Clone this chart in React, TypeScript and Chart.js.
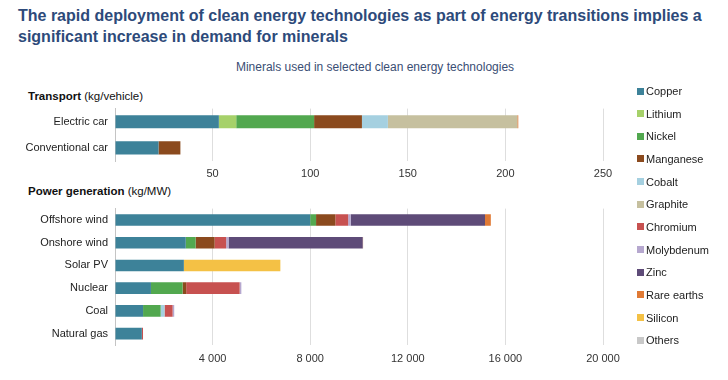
import React, { useEffect, useRef } from "react";
import { Chart, registerables } from "chart.js";

Chart.register(...registerables);

const FONT = "'Liberation Sans', Arial, Helvetica, sans-serif";

const minerals = [
  "Copper", "Lithium", "Nickel", "Manganese", "Cobalt", "Graphite",
  "Chromium", "Molybdenum", "Zinc", "Rare earths", "Silicon", "Others",
];
const mineralColors = [
  "#3d8299", "#a6d16a", "#52a84f", "#8b4a1e", "#a5d0e0", "#c6c09f",
  "#c75150", "#b6a8cf", "#5e4b78", "#e07a35", "#f4c145", "#c8c8c8",
];

// values per category, in mineral order
const transportCategories = ["Electric car", "Conventional car"];
const electricCar = [53.2, 8.9, 39.9, 24.5, 13.3, 66.3, 0, 0, 0, 0.5, 0, 0];
const conventionalCar = [22.3, 0, 0, 11.2, 0, 0, 0, 0, 0, 0, 0, 0];

const powerCategories = ["Offshore wind", "Onshore wind", "Solar PV", "Nuclear", "Coal", "Natural gas"];
const offshoreWind = [8000, 0, 240, 790, 0, 0, 525, 109, 5500, 239, 0, 0];
const onshoreWind = [2900, 0, 404, 780, 0, 0, 470, 99, 5500, 14, 0, 0];
const solarPV = [2822, 0, 0, 0, 0, 0, 0, 0, 0, 0, 3955, 0];
const nuclear = [1473, 0, 1297, 148, 0, 0, 2190, 70, 0, 0, 0, 0];
const coal = [1150, 0, 721, 0, 160, 0, 330, 66, 0, 0, 0, 0];
const naturalGas = [1100, 0, 0, 0, 0, 0, 48, 0, 0, 0, 0, 0];

const transportTicks = { max: 250, step: 50 };
const powerTicks = { max: 20000, step: 4000 };

const fmt = (v: number) =>
  v === 0 ? "" : String(v).replace(/\B(?=(\d{3})+(?!\d))/g, " ");

type PanelProps = {
  categories: string[];
  rows: number[][];
  max: number;
  step: number;
  top: number;
  height: number;
  padTop: number;
  axisH: number;
  tickPad: number;
  barPct: number;
};

function Panel({ categories, rows, max, step, top, height, padTop, axisH, tickPad, barPct }: PanelProps) {
  const ref = useRef<HTMLCanvasElement | null>(null);
  useEffect(() => {
    if (!ref.current) return;
    const datasets = minerals
      .map((m, i) => ({
        label: m,
        data: rows.map((r) => r[i]),
        backgroundColor: mineralColors[i],
        borderWidth: 0,
        barPercentage: barPct,
        categoryPercentage: 1,
      }))
      .filter((ds) => ds.data.some((v) => v > 0));
    const chart = new Chart(ref.current, {
      type: "bar",
      data: { labels: categories, datasets },
      options: {
        indexAxis: "y",
        animation: false,
        responsive: false,
        maintainAspectRatio: false,
        layout: { padding: { top: padTop, right: 125, left: 0, bottom: 0 } },
        plugins: { legend: { display: false }, tooltip: { enabled: false } },
        scales: {
          x: {
            stacked: true,
            min: 0,
            max,
            afterFit: (s: any) => { s.height = axisH; },
            ticks: {
              stepSize: step,
              padding: tickPad,
              color: "#333",
              font: { family: FONT, size: 11 },
              callback: (v: any) => fmt(Number(v)),
              maxRotation: 0,
              autoSkip: false,
            },
            grid: {
              drawTicks: false,
              color: (ctx: any) => (ctx.tick && ctx.tick.value === 0 ? "rgba(0,0,0,0)" : "#dedede"),
              lineWidth: 1,
            },
            border: { display: false },
          },
          y: {
            stacked: true,
            afterFit: (s: any) => { s.width = 115; },
            ticks: {
              padding: 7,
              color: "#222",
              font: { family: FONT, size: 11 },
            },
            grid: { display: false, drawTicks: false },
            border: { display: true, color: "#c4c4c4", width: 1 },
          },
        },
      },
    });
    return () => chart.destroy();
  }, []);
  return (
    <canvas
      ref={ref}
      width={728}
      height={height}
      style={{ position: "absolute", left: 0, top, width: 728, height }}
    />
  );
}

const legendTop = 91;
const legendStep = 22.65;

export default function App() {
  return (
    <div style={{ position: "absolute", left: 0, top: 0, width: 728, height: 380, background: "#fff", fontFamily: FONT, overflow: "hidden" }}>
      <div style={{ position: "absolute", left: 18, top: 5, width: 700, fontSize: 16, fontWeight: 700, lineHeight: "21px", color: "#2d4a7a" }}>
        The rapid deployment of clean energy technologies as part of energy transitions implies a significant increase in demand for minerals
      </div>
      <div style={{ position: "absolute", left: 0, width: 750, top: 60, textAlign: "center", fontSize: 12, color: "#3a4e74" }}>
        Minerals used in selected clean energy technologies
      </div>
      <div style={{ position: "absolute", left: 28, top: 89, fontSize: 11.5, lineHeight: "14px", color: "#111" }}>
        <b>Transport</b> (kg/vehicle)
      </div>
      <div style={{ position: "absolute", left: 28, top: 184, fontSize: 11.5, lineHeight: "14px", color: "#111" }}>
        <b>Power generation</b> (kg/MW)
      </div>
      <Panel
        categories={transportCategories}
        rows={[electricCar, conventionalCar]}
        max={transportTicks.max}
        step={transportTicks.step}
        top={95}
        height={90}
        padTop={10}
        axisH={24}
        tickPad={6}
        barPct={0.5}
      />
      <Panel
        categories={powerCategories}
        rows={[offshoreWind, onshoreWind, solarPV, nuclear, coal, naturalGas]}
        max={powerTicks.max}
        step={powerTicks.step}
        top={195}
        height={180}
        padTop={8}
        axisH={30}
        tickPad={7}
        barPct={0.51}
      />
      {minerals.map((m, i) => (
        <div
          key={m}
          style={{ position: "absolute", left: 637, top: legendTop + i * legendStep - 7, height: 14, display: "flex", alignItems: "center", fontSize: 11, color: "#222", whiteSpace: "nowrap" }}
        >
          <span style={{ display: "inline-block", width: 7, height: 7, background: mineralColors[i], marginRight: 2 }} />
          {m}
        </div>
      ))}
    </div>
  );
}
